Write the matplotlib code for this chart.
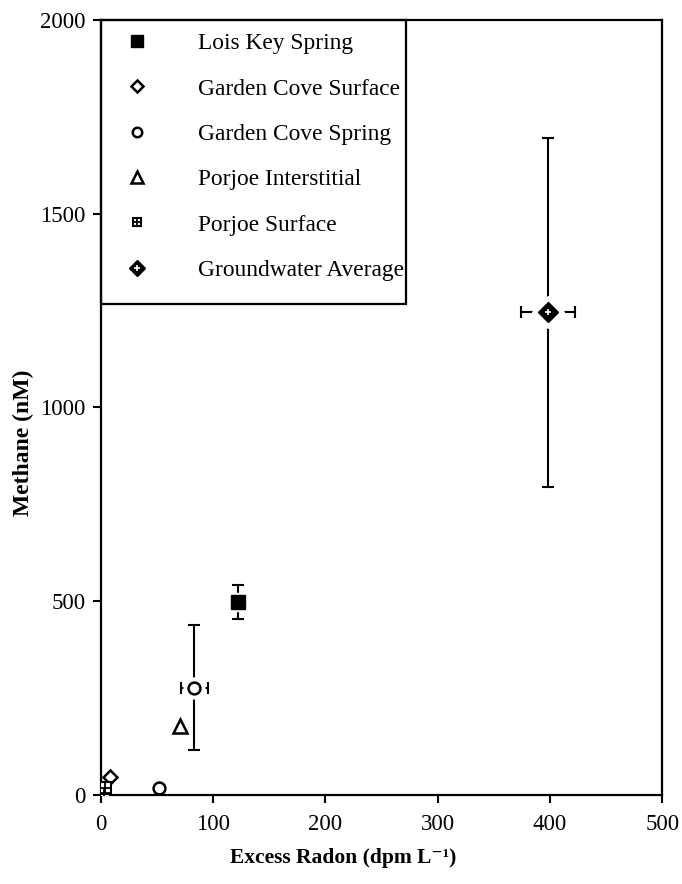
import matplotlib
matplotlib.use("Agg")
import matplotlib.pyplot as plt
from matplotlib.patches import Rectangle

plt.rcParams["font.family"] = ["Liberation Serif", "DejaVu Serif"]

# -----------------------------
# Data
# -----------------------------
lois_x = [122]
lois_y = [497]
lois_yerr = [44]

gcs_surf_x = [8]
gcs_surf_y = [47]

gc_spring_x = [83, 52]
gc_spring_y = [277, 19]
gc_spring_xerr = [12, 0]
gc_spring_yerr = [162, 0]

porjoe_int_x = [70]
porjoe_int_y = [177]

porjoe_surf_x = [3, 4]
porjoe_surf_y = [6, 18]

gw_x = [398]
gw_y = [1246]
gw_xerr = [24]
gw_yerr = [450]

labels = ["Lois Key Spring", "Garden Cove Surface", "Garden Cove Spring",
          "Porjoe Interstitial", "Porjoe Surface", "Groundwater Average"]

fig = plt.figure(figsize=(6.82, 8.84), dpi=100)
ax = fig.add_axes([0.148, 0.1007, 0.823, 0.8767])

eb = dict(fmt="none", ecolor="black", elinewidth=1.5, capsize=4.5, capthick=1.5, zorder=2)

# error bars
ax.errorbar(lois_x, lois_y, yerr=lois_yerr, **eb)
ax.errorbar(gc_spring_x[:1], gc_spring_y[:1], xerr=gc_spring_xerr[:1], yerr=gc_spring_yerr[:1], **eb)
ax.errorbar(gw_x, gw_y, xerr=gw_xerr, yerr=gw_yerr, **eb)

# white halos so the bars stop short of the markers
ax.plot(gc_spring_x[:1], gc_spring_y[:1], "o", ms=15, color="white", zorder=3)
ax.plot(gw_x, gw_y, "D", ms=16, color="white", zorder=3)
ax.plot(lois_x, lois_y, "s", ms=13, color="white", zorder=3)

# markers
h1, = ax.plot(lois_x, lois_y, "s", ms=10.5, color="black", zorder=4)
h2, = ax.plot(gcs_surf_x, gcs_surf_y, "D", ms=7.5, mfc="white", mec="black", mew=1.8, zorder=4)
h3, = ax.plot(gc_spring_x, gc_spring_y, "o", ms=8.5, mfc="white", mec="black", mew=1.8, zorder=4)
h4, = ax.plot(porjoe_int_x, porjoe_int_y, "^", ms=10, mfc="white", mec="black", mew=1.8, zorder=4)
h5a, = ax.plot(porjoe_surf_x, porjoe_surf_y, "s", ms=8, mfc="white", mec="black", mew=1.5, zorder=4)
h5b, = ax.plot(porjoe_surf_x, porjoe_surf_y, "+", ms=8, mec="black", mew=1.3, zorder=5)
h6a, = ax.plot(gw_x, gw_y, "D", ms=10, color="black", zorder=4)
h6b, = ax.plot(gw_x, gw_y, "+", ms=5, mec="white", mew=1.2, zorder=5)

ax.set_xlim(0, 500)
ax.set_ylim(0, 2000)
ax.set_xticks([0, 100, 200, 300, 400, 500])
ax.set_yticks([0, 500, 1000, 1500, 2000])
ax.tick_params(direction="out", length=6, width=1.5, labelsize=16.5, pad=5)
ax.tick_params(axis="x", pad=8)
for s in ax.spines.values():
    s.set_linewidth(1.6)

ax.set_xlabel("Excess Radon (dpm L\u207b\u00b9)", fontsize=15.5, fontweight="bold")
ax.set_ylabel("Methane (nM)", fontsize=17, fontweight="bold")
ax.xaxis.set_label_coords(0.431, -0.069)
ax.yaxis.set_label_coords(-0.119, 0.455)

leg = ax.legend([h1, h2, h3, h4, (h5a, h5b), (h6a, h6b)], labels,
                loc="upper left", bbox_to_anchor=(0, 1), borderaxespad=0,
                fontsize=16.8, frameon=False, labelspacing=1.03, handletextpad=1.6,
                handlelength=2.0, borderpad=0.55, markerscale=0.8)
# legend box drawn by hand (tighter on the right, looser at the bottom)
ax.add_patch(Rectangle((0, 0.6335), 0.5437, 0.3665, transform=ax.transAxes,
                       facecolor="none", edgecolor="black", lw=1.6, zorder=6, clip_on=False))

plt.savefig("out.png", dpi=100)
